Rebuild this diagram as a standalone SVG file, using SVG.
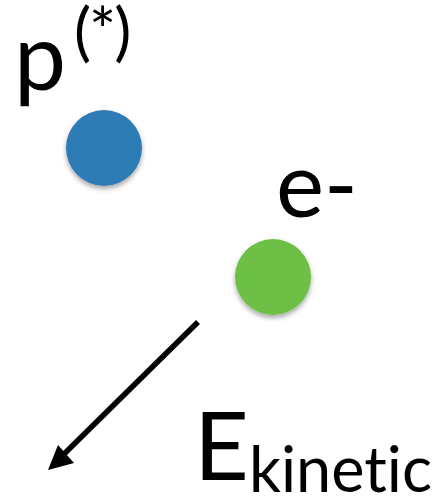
<svg xmlns="http://www.w3.org/2000/svg" width="443" height="498" viewBox="0 0 443 498">
<defs>
<style>
.t{font-family:Lato,"Liberation Sans",sans-serif;fill:#000;font-variant-ligatures:none;font-feature-settings:"liga" 0}
</style>
<filter id="sh" x="-30%" y="-30%" width="160%" height="170%">
<feDropShadow dx="0" dy="3" stdDeviation="2.5" flood-color="#000" flood-opacity="0.35"/>
</filter>
</defs>
<rect width="443" height="498" fill="#fff"/>
<g id="proton">
<circle cx="104" cy="148" r="38" fill="#2f7bb6" filter="url(#sh)"/>
<text class="t" x="14" y="90" font-size="93">p</text>
<text class="t" x="74" y="54" font-size="64" letter-spacing="-2">(*)</text>
</g>
<g id="electron">
<circle cx="273" cy="277" r="38" fill="#6dbf45" filter="url(#sh)"/>
<text class="t" x="276" y="217" font-size="91">e-</text>
</g>
<g id="connectors">
<line x1="198" y1="322" x2="62" y2="456" stroke="#000" stroke-width="5.5"/>
<path d="M48,470 L58,445 L74,463 z" fill="#000"/>
</g>
<g id="label">
<text class="t" x="194" y="480" font-size="95">E<tspan font-size="63" dy="12">kinetic</tspan></text>
</g>
</svg>
